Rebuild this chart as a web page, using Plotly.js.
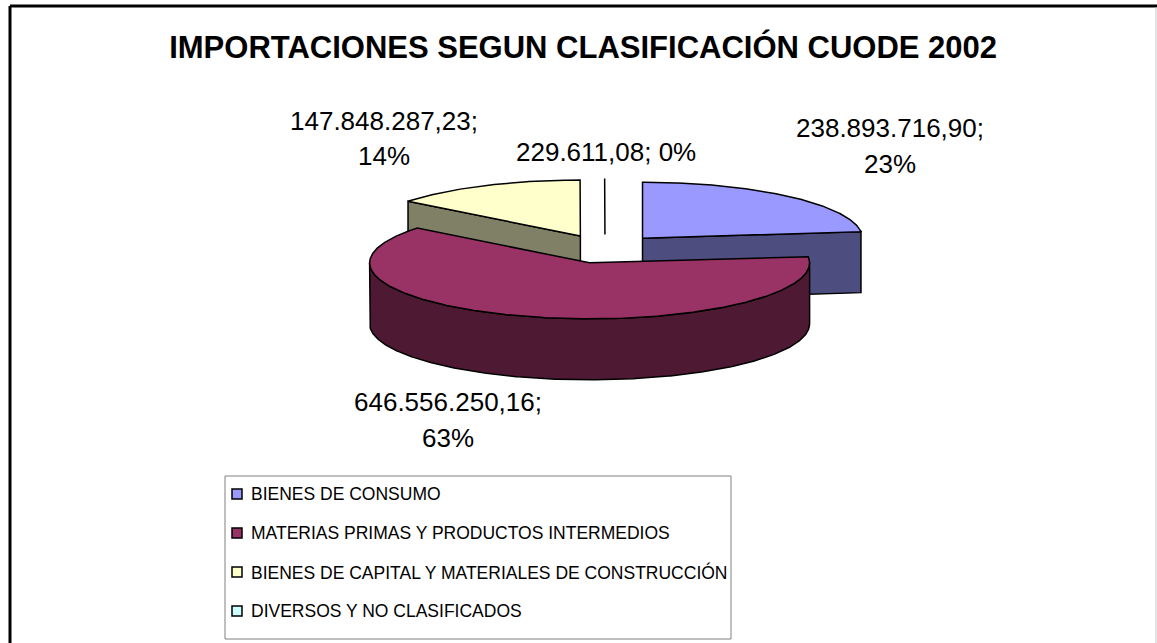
<!DOCTYPE html>
<html>
<head>
<meta charset="utf-8">
<script src="https://cdn.plot.ly/plotly-3.0.1.min.js"></script>
<style>
  html, body { margin: 0; padding: 0; background: #ffffff; }
  #chart { width: 1157px; height: 643px; }
</style>
</head>
<body>
<div id="chart"></div>
<script>
// ---------------- DATA ----------------
const chartTitle = 'IMPORTACIONES SEGUN CLASIFICACIÓN CUODE 2002';
const categories = [
  'BIENES DE CONSUMO',
  'MATERIAS PRIMAS Y PRODUCTOS INTERMEDIOS',
  'BIENES DE CAPITAL Y MATERIALES DE CONSTRUCCIÓN',
  'DIVERSOS Y NO CLASIFICADOS'
];
const values = [238893716.90, 646556250.16, 147848287.23, 229611.08];

// ---------------- STYLE ----------------
const topColors  = ['#9999FF', '#993366', '#FFFFCC', '#CCFFFF'];
const sideColors = ['#4D4D80', '#4D1933', '#808066', '#668080'];
// label anchor positions (pixels): [x, yLine1, yLine2]
const labelPos = [[890, 128, 164], [448, 402, 438], [384, 121, 156], [606, 152, null]];

const W = 1157, H = 643;
const CX = 605, CY = 249, RX = 220, RY = 56, DEPTH = 61, EXPLODE = 56.5;
const labelFont = 'Liberation Sans, Arial, sans-serif';
const legendFont = 'Liberation Sans, Arial, sans-serif';

// ---------------- HELPERS ----------------
function fmtEs(v) {
  const parts = v.toFixed(2).split('.');
  return parts[0].replace(/\B(?=(\d{3})+(?!\d))/g, '.') + ',' + parts[1];
}
function rim(ax, ay, t, dy) {
  return [ax + RX * Math.sin(t), ay - RY * Math.cos(t) + (dy || 0)];
}
function arc(ax, ay, t0, t1, dy) {
  const pts = [];
  const n = Math.max(2, Math.ceil(Math.abs(t1 - t0) / (Math.PI / 360)));
  for (let i = 0; i <= n; i++) {
    const t = t0 + (t1 - t0) * i / n;
    pts.push(rim(ax, ay, t, dy));
  }
  return pts;
}
function poly(pts, fill) {
  const xs = pts.map(p => p[0]), ys = pts.map(p => p[1]);
  xs.push(pts[0][0]); ys.push(pts[0][1]);
  return {
    type: 'scatter', mode: 'lines', x: xs, y: ys,
    fill: 'toself', fillcolor: fill,
    line: { color: '#000000', width: 1.5 },
    hoverinfo: 'skip', showlegend: false
  };
}

// ---------------- BUILD 3D PIE ----------------
const total = values.reduce((a, b) => a + b, 0);
const slices = [];
let start = 0;
values.forEach((v, i) => {
  const a0 = start, a1 = start + v / total * 2 * Math.PI;
  start = a1;
  const mid = (a0 + a1) / 2;
  const ax = CX + EXPLODE * Math.sin(mid);
  const ay = CY - EXPLODE * (RY / RX) * Math.cos(mid);
  slices.push({ i, a0, a1, mid, ax, ay });
});

// back-to-front order
const order = slices.slice().sort((a, b) => Math.cos(b.mid) - Math.cos(a.mid));
const traces = [];
order.forEach(s => {
  const { i, a0, a1, ax, ay } = s;
  const big = (a1 - a0) > Math.PI / 180;
  if (big) {
    if (Math.sin(a1) > 0.001) {
      const r = rim(ax, ay, a1);
      traces.push(poly([[ax, ay], r, [r[0], r[1] + DEPTH], [ax, ay + DEPTH]], sideColors[i]));
    }
    if (Math.sin(a0) < -0.001) {
      const r = rim(ax, ay, a0);
      traces.push(poly([[ax, ay], r, [r[0], r[1] + DEPTH], [ax, ay + DEPTH]], sideColors[i]));
    }
    const t0 = Math.max(a0, Math.PI / 2), t1 = Math.min(a1, 3 * Math.PI / 2);
    if (t1 > t0) {
      const topArc = arc(ax, ay, t0, t1, 0);
      const botArc = arc(ax, ay, t1, t0, DEPTH);
      traces.push(poly(topArc.concat(botArc), sideColors[i]));
    }
  }
  traces.push(poly([[ax, ay]].concat(arc(ax, ay, a0, a1, 0)), topColors[i]));
});

// ---------------- LEGEND (manual) ----------------
const legX = 225, legY0 = 476, legX1 = 731, legY1 = 639;
const legRows = [494, 533, 572, 611];
traces.push({
  type: 'scatter', mode: 'markers',
  x: categories.map(() => 237), y: legRows,
  marker: { symbol: 'square', size: 10, color: topColors, line: { color: '#000000', width: 1.5 } },
  hoverinfo: 'skip', showlegend: false
});

const annotations = [];
categories.forEach((c, i) => {
  annotations.push({
    x: 249, y: legRows[i], xref: 'x', yref: 'y', xanchor: 'left', yanchor: 'middle',
    text: c, showarrow: false, font: { family: legendFont, size: 17.5, color: '#000000' }
  });
});

values.forEach((v, i) => {
  const pct = Math.round(v / total * 100) + '%';
  const p = labelPos[i];
  const f = { family: labelFont, size: 26, color: '#000000' };
  if (p[2] === null) {
    annotations.push({ x: p[0], y: p[1], xref: 'x', yref: 'y', xanchor: 'center', yanchor: 'middle',
      text: fmtEs(v) + '; ' + pct, showarrow: false, font: f });
  } else {
    annotations.push({ x: p[0], y: p[1], xref: 'x', yref: 'y', xanchor: 'center', yanchor: 'middle',
      text: fmtEs(v) + ';', showarrow: false, font: f });
    annotations.push({ x: p[0], y: p[2], xref: 'x', yref: 'y', xanchor: 'center', yanchor: 'middle',
      text: pct, showarrow: false, font: f });
  }
});

const shapes = [
  { type: 'rect', xref: 'x', yref: 'y', x0: legX, y0: legY0, x1: legX1, y1: legY1,
    line: { color: '#808080', width: 1 }, fillcolor: 'rgba(0,0,0,0)', layer: 'below' },
  { type: 'line', xref: 'x', yref: 'y', x0: 10, y0: 6, x1: W, y1: 6, line: { color: '#000000', width: 3 } },
  { type: 'line', xref: 'x', yref: 'y', x0: 10, y0: 6, x1: 10, y1: H, line: { color: '#000000', width: 3 } },
  { type: 'line', xref: 'x', yref: 'y', x0: 1156, y0: 7, x1: 1156, y1: H, line: { color: '#c8c8c8', width: 1 } }
];

const layout = {
  width: W, height: H, autosize: false,
  margin: { l: 0, r: 0, t: 0, b: 0, pad: 0 },
  paper_bgcolor: '#ffffff', plot_bgcolor: '#ffffff',
  title: {
    text: '<b>' + chartTitle + '</b>',
    font: { family: 'Liberation Sans, Arial, sans-serif', size: 31, color: '#000000' },
    x: 0.504, xanchor: 'center', y: 1 - 47 / H, yanchor: 'middle', xref: 'paper', yref: 'paper'
  },
  xaxis: { range: [0, W], visible: false, fixedrange: true, showgrid: false, zeroline: false },
  yaxis: { range: [H, 0], visible: false, fixedrange: true, showgrid: false, zeroline: false },
  showlegend: false,
  annotations: annotations,
  shapes: shapes
};

Plotly.newPlot('chart', traces, layout, { staticPlot: true, displayModeBar: false });
</script>
</body>
</html>
